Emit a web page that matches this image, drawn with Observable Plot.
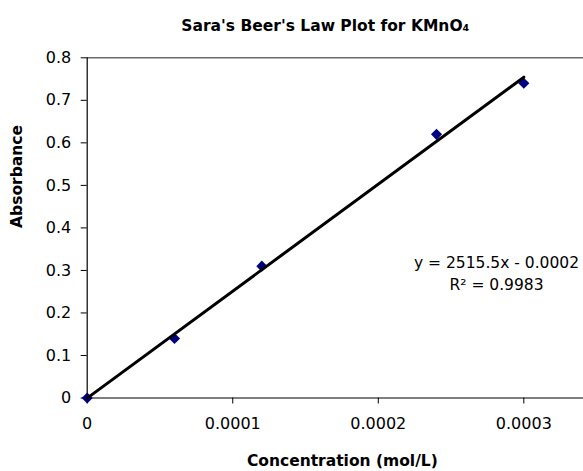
<!DOCTYPE html>
<html><head><meta charset="utf-8">
<script src="https://cdn.jsdelivr.net/npm/d3@7"></script>
<script src="https://cdn.jsdelivr.net/npm/@observablehq/plot@0.6"></script>
<style>body{margin:0;background:#fff}</style>
</head><body><div id="chart"></div>
<script>
const concentration = [0, 0.00006, 0.00012, 0.00024, 0.0003];
const absorbance = [0, 0.14, 0.31, 0.62, 0.74];
const xTicks = [0, 0.0001, 0.0002, 0.0003];
const xTickLabels = ["0", "0.0001", "0.0002", "0.0003"];
const yTicks = [0, 0.1, 0.2, 0.3, 0.4, 0.5, 0.6, 0.7, 0.8];
const yTickLabels = ["0", "0.1", "0.2", "0.3", "0.4", "0.5", "0.6", "0.7", "0.8"];
const xDomain = [0, 0.000341];
const yDomain = [0, 0.8];
const trendSlope = 2515.5;
const trendIntercept = -0.0002;
const equationLines = ["y = 2515.5x - 0.0002", "R² = 0.9983"];
const titleText = "Sara's Beer's Law Plot for KMnO₄";
const xLabel = "Concentration (mol/L)";
const yLabel = "Absorbance";

const points = concentration.map((c, i) => ({c, a: absorbance[i]}));
const trend = d3.extent(concentration).map(c => ({c, a: trendSlope * c + trendIntercept}));

const chart = Plot.plot({
  width: 583,
  height: 471,
  marginLeft: 86.7,
  marginRight: 0,
  marginTop: 57.3,
  marginBottom: 73.5,
  style: {fontFamily: "'DejaVu Sans', sans-serif", fontSize: "16px", background: "#fff", color: "#000"},
  x: {domain: xDomain},
  y: {domain: yDomain},
  marks: [
    Plot.ruleY([yDomain[1]], {stroke: "#6b6b6b", strokeWidth: 1.5}),
    Plot.axisY({ticks: yTicks, tickFormat: d => yTickLabels[yTicks.indexOf(d)], tickSize: 6, tickPadding: 10, label: null, fontSize: 16}),
    Plot.axisX({ticks: xTicks, tickFormat: d => xTickLabels[xTicks.indexOf(d)], tickSize: 6, tickPadding: 14, label: null, fontSize: 16}),
    Plot.ruleX([xDomain[0]], {stroke: "#000", strokeWidth: 1.2}),
    Plot.ruleY([yDomain[0]], {stroke: "#000", strokeWidth: 1.2}),
    Plot.dot(points, {x: "c", y: "a", symbol: "diamond2", r: 5, fill: "#000080", stroke: "none"}),
    Plot.line(trend, {x: "c", y: "a", stroke: "#000", strokeWidth: 3}),
    Plot.text([equationLines.join("\n")], {frameAnchor: "top-right", textAnchor: "middle", lineAnchor: "middle", dx: -87, dy: 214.4, lineHeight: 1.4, fontSize: 15.5, fill: "#000"}),
    Plot.text([titleText], {frameAnchor: "top", lineAnchor: "middle", dx: -10, dy: -32, fontSize: 15.5, fontWeight: "bold", fill: "#000"}),
    Plot.text([xLabel], {frameAnchor: "bottom", lineAnchor: "middle", dx: 7, dy: 63.5, fontSize: 15.5, fontWeight: "bold", fill: "#000"}),
    Plot.text([yLabel], {frameAnchor: "left", lineAnchor: "middle", rotate: -90, dx: -69.7, fontSize: 15.5, fontWeight: "bold", fill: "#000"})
  ]
});
document.getElementById("chart").appendChild(chart);
</script>
</body></html>
